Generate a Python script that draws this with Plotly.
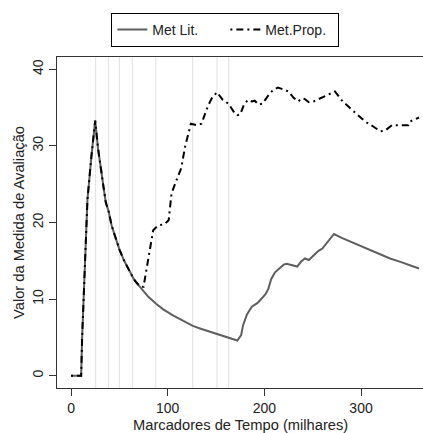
import plotly.graph_objects as go

# marcadores de tempo (milhares) - linhas verticais cinza
marcadores = [25.5, 38.6, 50, 63.4, 87.7, 125.9, 151, 163.1]

tempo_lit = [0, 5, 10.5, 11.5, 14, 17, 21, 25, 28, 31, 34, 36, 39, 42, 46, 50, 55, 60, 63,
             65, 70, 75, 80, 88, 95, 105, 115, 126, 135, 145, 155, 163, 170, 172, 176, 178,
             182, 187, 193, 197, 201, 204, 207, 211, 215, 220, 223, 229, 234, 238, 242, 246,
             250, 256, 260, 265, 272, 280, 289, 300, 309, 320, 330, 340, 350, 360]
met_lit = [0, 0, 0, 5, 13.5, 23, 28.5, 33.3, 29.6, 26.6, 24.3, 22.6, 21.4, 19.6, 17.9, 16.5,
           15.0, 13.7, 13.0, 12.6, 11.8, 11.0, 10.3, 9.4, 8.7, 7.9, 7.2, 6.5, 6.1, 5.7, 5.3,
           5.0, 4.7, 4.6, 5.3, 6.6, 8.0, 9.0, 9.5, 10.0, 10.6, 11.3, 12.6, 13.5, 14.0, 14.5,
           14.6, 14.4, 14.25, 14.9, 15.3, 15.1, 15.6, 16.3, 16.6, 17.4, 18.5, 18.0, 17.5,
           16.9, 16.4, 15.8, 15.3, 14.9, 14.5, 14.0]

tempo_prop = [0, 5, 10.5, 11.5, 14, 17, 21, 25, 28, 31, 34, 36, 39, 42, 46, 50, 55, 60, 63,
              65, 68, 72, 75, 80, 85, 90, 97, 101, 104, 109, 114, 118, 121, 124, 130, 135,
              139, 142, 146, 151, 157, 163, 168, 172, 175, 179, 183, 187, 190, 194, 198, 203,
              209, 214, 219, 225, 230, 235, 239, 242, 246, 251, 256, 261, 267, 273, 281, 292,
              304, 313, 320, 325, 332, 340, 349, 351, 356, 360]
met_prop = [0, 0, 0, 5, 13.5, 23, 28.5, 33.3, 29.6, 26.6, 24.3, 22.6, 21.4, 19.6, 17.9, 16.5,
            15.0, 13.7, 13.0, 12.6, 12.1, 11.6, 11.6, 15.5, 19.0, 19.6, 19.8, 20.3, 23.8, 25.5,
            27.1, 29.9, 31.5, 32.9, 32.7, 32.9, 34.3, 35.3, 36.3, 37.0, 36.0, 35.5, 34.5, 34.0,
            34.1, 35.4, 36.0, 35.8, 35.9, 35.4, 35.5, 36.4, 37.3, 37.6, 37.4, 37.1, 36.3, 35.8,
            36.2, 36.1, 35.7, 35.8, 36.1, 36.4, 36.8, 37.1, 35.8, 34.5, 33.2, 32.5, 31.9, 32.0,
            32.7, 32.7, 32.7, 33.2, 33.5, 33.7]

x_ticks = [0, 100, 200, 300]
y_ticks = [0, 10, 20, 30, 40]

FONT = "Liberation Sans, Arial, sans-serif"
TITLE_SIZE = 14.7

fig = go.Figure()
fig.add_trace(go.Scatter(x=tempo_lit, y=met_lit, mode="lines", name="Met Lit.",
                         line=dict(color="#5e5e5e", width=2)))
fig.add_trace(go.Scatter(x=tempo_prop, y=met_prop, mode="lines", name="Met.Prop.",
                         line=dict(color="black", width=2, dash="2px,4px,7px,4px")))

for m in marcadores:
    fig.add_shape(type="line", xref="x", yref="paper", x0=m, x1=m, y0=0, y1=1,
                  line=dict(color="#e0e0e0", width=1), layer="below")

# titulo do eixo x como anotacao (o title do eixo ficava colado nos ticks)
fig.add_annotation(text="Marcadores de Tempo (milhares)", xref="x", yref="paper",
                   x=175, y=-0.112, yanchor="middle", showarrow=False,
                   font=dict(size=TITLE_SIZE))

fig.update_layout(
    width=423, height=433,
    margin=dict(l=57, r=0, t=57, b=45),
    paper_bgcolor="white", plot_bgcolor="white",
    font=dict(family=FONT, size=14, color="#222"),
    showlegend=True,
    legend=dict(orientation="h", x=0.46, xanchor="center", y=1.133, yanchor="top",
                bordercolor="black", borderwidth=1, bgcolor="white",
                font=dict(size=14), entrywidth=68),
)
fig.update_xaxes(range=[-14.5, 364.1], tickvals=x_ticks, showgrid=False, zeroline=False,
                 showline=True, linecolor="#333", linewidth=1, mirror=True,
                 ticks="outside", ticklen=7, tickcolor="#333", automargin=False)
fig.update_yaxes(range=[-1.6, 41.6], tickvals=y_ticks, showgrid=False, zeroline=False,
                 showline=True, linecolor="#333", linewidth=1, automargin=False,
                 ticks="outside", ticklen=7, tickcolor="#333", tickangle=-90,
                 title=dict(text="Valor da Medida de Avaliação", standoff=2,
                            font=dict(size=TITLE_SIZE)))

# sem a margem padrao do body, sem a barra de ferramentas
fig.write_html("out.html", config={"displayModeBar": False},
               post_script="document.body.style.margin='0';")
